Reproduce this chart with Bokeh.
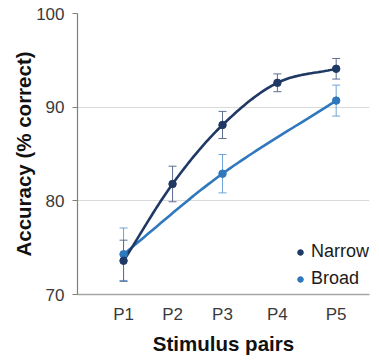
import numpy as np
from bokeh.plotting import figure
from bokeh.models import (Range1d, FixedTicker, ColumnDataSource, Whisker, TeeHead,
                          Legend, LegendItem, CustomJSTickFormatter)
from bokeh.embed import file_html
from bokeh.resources import INLINE

# ---- data ----
pair_labels = ["P1", "P2", "P3", "P4", "P5"]
pair_pos = [1.0, 2.0, 3.02, 4.14, 5.34]

narrow_x = [1.0, 2.0, 3.02, 4.14, 5.34]
narrow_acc = [73.6, 81.8, 88.1, 92.6, 94.1]
narrow_err = [2.2, 1.9, 1.45, 0.95, 1.1]

broad_x = [1.0, 3.02, 5.34]
broad_acc = [74.3, 82.9, 90.7]
broad_err = [2.8, 2.05, 1.65]

y_ticks = [70, 80, 90, 100]

NAVY = "#203864"
BLUE = "#2f78bd"
FONT = "Liberation Sans"


def smooth(xs, ys, n=30):
    """Catmull-Rom curve through the given points (rendering path only)."""
    xs = np.asarray(xs, float)
    ys = np.asarray(ys, float)
    px = np.concatenate([[2 * xs[0] - xs[1]], xs, [2 * xs[-1] - xs[-2]]])
    py = np.concatenate([[2 * ys[0] - ys[1]], ys, [2 * ys[-1] - ys[-2]]])
    ox, oy = [], []
    t = np.linspace(0, 1, n)
    for i in range(1, len(px) - 2):
        p0x, p1x, p2x, p3x = px[i - 1:i + 3]
        p0y, p1y, p2y, p3y = py[i - 1:i + 3]
        for arr, a, b, c, d in ((ox, p0x, p1x, p2x, p3x), (oy, p0y, p1y, p2y, p3y)):
            arr.extend(0.5 * ((2 * b) + (-a + c) * t + (2 * a - 5 * b + 4 * c - d) * t ** 2
                              + (-a + 3 * b - 3 * c + d) * t ** 3))
    return ox, oy


p = figure(width=379, height=361, output_backend="svg", toolbar_location=None,
           x_range=Range1d(0.06, 6.02), y_range=Range1d(70, 100),
           min_border_left=77, min_border_right=10, min_border_top=13, min_border_bottom=67)
p.outline_line_color = None
p.background_fill_color = "white"
p.border_fill_color = "white"

# grid
p.xgrid.grid_line_color = None
p.ygrid.grid_line_color = "#d9d9d9"
p.ygrid.grid_line_width = 1.2
p.yaxis.ticker = FixedTicker(ticks=y_ticks)
p.xaxis.ticker = FixedTicker(ticks=pair_pos)
p.xaxis.formatter = CustomJSTickFormatter(args=dict(pos=pair_pos, labs=pair_labels), code="""
    let best = 0;
    for (let i = 0; i < pos.length; i++) { if (Math.abs(pos[i]-tick) < Math.abs(pos[best]-tick)) best = i; }
    return labs[best];
""")

# axes style
p.yaxis.axis_line_color = "#7f7f7f"
p.yaxis.axis_line_width = 1.2
p.yaxis.major_tick_line_color = "#7f7f7f"
p.yaxis.major_tick_out = 5
p.yaxis.major_tick_in = 0
p.yaxis.minor_tick_line_color = None
p.yaxis.major_label_standoff = 8
p.yaxis.major_label_text_font = FONT
p.yaxis.major_label_text_font_size = "17px"
p.yaxis.major_label_text_color = "#3a3a3a"
p.yaxis.axis_label = "Accuracy (% correct)"
p.yaxis.axis_label_text_font = FONT
p.yaxis.axis_label_text_font_size = "20.5px"
p.yaxis.axis_label_text_font_style = "bold"
p.yaxis.axis_label_text_color = "#111111"
p.yaxis.axis_label_standoff = -2

p.xaxis.axis_line_color = "#a6a6a6"
p.xaxis.axis_line_width = 1.5
p.xaxis.major_tick_line_color = None
p.xaxis.minor_tick_line_color = None
p.xaxis.major_tick_out = 0
p.xaxis.major_label_standoff = 10
p.xaxis.major_label_text_font = FONT
p.xaxis.major_label_text_font_size = "17px"
p.xaxis.major_label_text_color = "#3a3a3a"
p.xaxis.axis_label = "Stimulus pairs"
p.xaxis.axis_label_text_font = FONT
p.xaxis.axis_label_text_font_size = "20.5px"
p.xaxis.axis_label_text_font_style = "bold"
p.xaxis.axis_label_text_color = "#111111"
p.xaxis.axis_label_standoff = 5

# error bars
nsrc = ColumnDataSource(dict(x=narrow_x, y=narrow_acc,
                             lo=[a - e for a, e in zip(narrow_acc, narrow_err)],
                             hi=[a + e for a, e in zip(narrow_acc, narrow_err)]))
bsrc = ColumnDataSource(dict(x=broad_x, y=broad_acc,
                             lo=[a - e for a, e in zip(broad_acc, broad_err)],
                             hi=[a + e for a, e in zip(broad_acc, broad_err)]))
for src, col in ((bsrc, "#6fa3d8"), (nsrc, "#5d6e8f")):
    w = Whisker(source=src, base="x", lower="lo", upper="hi", dimension="height",
                line_color=col, line_width=1,
                upper_head=TeeHead(size=8, line_color=col, line_width=1),
                lower_head=TeeHead(size=8, line_color=col, line_width=1))
    p.add_layout(w)

# curves
bx, by = smooth(broad_x, broad_acc)
nx, ny = smooth(narrow_x, narrow_acc)
p.line(bx, by, line_color=BLUE, line_width=2.6)
p.line(nx, ny, line_color=NAVY, line_width=2.6)

# small markers used for the legend swatches (hidden under the main markers)
lb = p.scatter("x", "y", source=bsrc, size=5.5, fill_color=BLUE, line_color=BLUE)
ln = p.scatter("x", "y", source=nsrc, size=5.5, fill_color=NAVY, line_color=NAVY)

# markers
p.scatter("x", "y", source=bsrc, size=7.5, fill_color=BLUE, line_color=BLUE)
p.scatter("x", "y", source=nsrc, size=7.5, fill_color=NAVY, line_color=NAVY)

legend = Legend(items=[LegendItem(label="Narrow", renderers=[ln]),
                       LegendItem(label="Broad", renderers=[lb])],
                location=(216, 5))
legend.border_line_color = None
legend.background_fill_alpha = 0
legend.label_text_font = FONT
legend.label_text_font_size = "18px"
legend.label_text_color = "#1a1a1a"
legend.glyph_width = 14
legend.glyph_height = 14
legend.label_height = 20
legend.label_standoff = 4
legend.spacing = 6
legend.padding = 0
legend.margin = 0
p.add_layout(legend)

open("out.html", "w").write(file_html(p, INLINE))
